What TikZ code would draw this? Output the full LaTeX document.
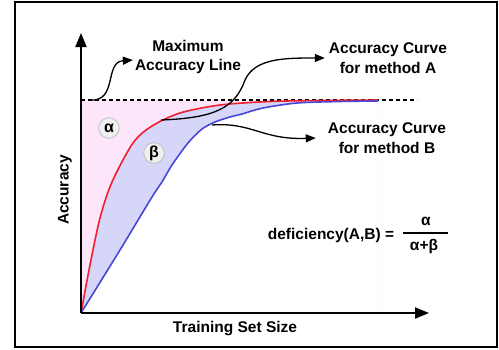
\documentclass[tikz,border=0pt]{standalone}
\usepackage{fontspec}
\setmainfont{Liberation Sans}
\usetikzlibrary{arrows.meta}
\definecolor{pinkfill}{HTML}{FDE6FA}
\definecolor{bluefill}{HTML}{D5D6F8}
\definecolor{redcurve}{HTML}{EE2030}
\definecolor{bluecurve}{HTML}{4848D8}
\begin{document}
\begin{tikzpicture}[x=1pt,y=-1pt,
 lbl/.style={font=\fontsize{15.5}{19.5}\selectfont\bfseries, align=center, inner sep=0pt},
 axisline/.style={line width=2pt, -{Triangle[length=14pt,width=11pt]}},
 callout/.style={line width=1.3pt, -{Triangle[length=10pt,width=8pt]}},
 greek/.style={circle, draw=black!25, line width=0.8pt, fill=black!6, minimum size=20.5pt, inner sep=0pt, font=\fontsize{16}{18}\selectfont\bfseries}]
\useasboundingbox (0,0) rectangle (499,349);
\draw[line width=1.5pt] (15,2) rectangle (497,347);
% fills
\fill[pinkfill] plot[smooth] coordinates {(81,313) (90,265) (100,218) (112,182) (133,143) (152,126) (180,113) (220,105) (270,101.5) (320,100.5) (378,100)} -- (81,100) -- cycle;
\fill[bluefill] plot[smooth] coordinates {(81,313) (90,265) (100,218) (112,182) (133,143) (152,126) (180,113) (220,105) (270,101.5) (320,100.5) (378,100)} -- (378,313) -- cycle;
\fill[white] plot[smooth] coordinates {(81,313) (120,250) (152,197) (162,182) (172,165) (188,143) (202,129) (215,122) (230,117) (242,114) (263,108) (297,103) (340,101.5) (378,101)} -- (378,313) -- cycle;
% dashed max line
\coordinate (m0) at (81,100);
\coordinate (m1) at (417,100);
\draw[line width=1.3pt, dash pattern=on 4pt off 3pt] (m0) -- (m1);
% curves
\draw[redcurve, line width=1.6pt] plot[smooth] coordinates {(81,313) (90,265) (100,218) (112,182) (133,143) (152,126) (180,113) (220,105) (270,101.5) (320,100.5) (378,100)};
\draw[bluecurve, line width=1.6pt] plot[smooth] coordinates {(81,313) (120,250) (152,197) (162,182) (172,165) (188,143) (202,129) (215,122) (230,117) (242,114) (263,108) (297,103) (340,101.5) (378,101)};
% axes
\coordinate (O) at (81,313);
\coordinate (ytip) at (81,33);
\coordinate (xtip) at (429,313);
\draw[axisline] (O) -- (ytip);
\draw[axisline] (O) -- (xtip);
% labels
\node[lbl] (maxl) at (188,57) {Maximum\\Accuracy Line};
\node[lbl] (lblA) at (388,58) {Accuracy Curve\\for method A};
\node[lbl] (lblB) at (387,138) {Accuracy Curve\\for method B};
\node[lbl] (xl) at (235,329) {Training Set Size};
\node[lbl, rotate=90] (yl) at (65,190) {Accuracy};
\node[greek] (al) at (109,128) {α};
\node[greek] (be) at (154,153) {β};
% callouts
\coordinate (pM) at (90,100);
\coordinate (pA) at (161,120);
\coordinate (pB) at (212,125);
\draw[callout] (pM) .. controls (118,102) and (104,62) .. ([xshift=-2pt]maxl.west |- 0,60);
\draw[callout] (pA) .. controls (215,118) and (235,108) .. (245,80) .. controls (255,58) and (285,58) .. ([xshift=-4pt]lblA.west);
\draw[callout] (pB) .. controls (252,122) and (262,140) .. ([xshift=-12pt]lblB.west);
% formula
\node[lbl] (def) at (331,235) {deficiency(A,B) =};
\node[lbl] (num) at (426,221) {α};
\node[lbl] (den) at (424,246) {α+β};
\coordinate (b0) at (403,233);
\coordinate (b1) at (448,233);
\draw[line width=1.3pt] (b0) -- (b1);
\end{tikzpicture}
\end{document}
